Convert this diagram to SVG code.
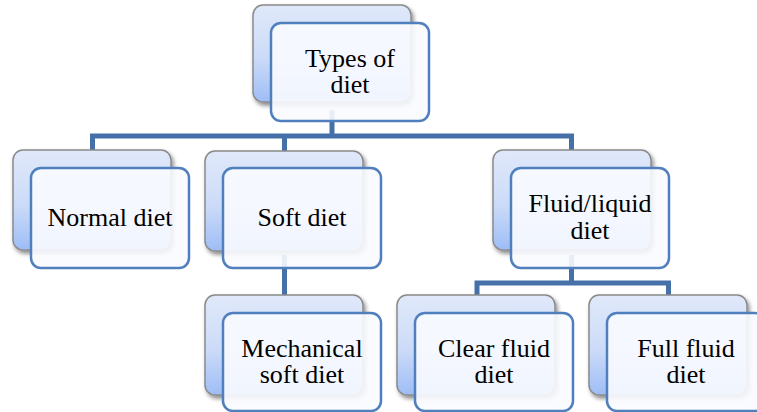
<svg xmlns="http://www.w3.org/2000/svg" width="757" height="412" viewBox="0 0 757 412">
  <defs>
    <linearGradient id="backFill" x1="0" y1="0" x2="0" y2="1">
      <stop offset="0" stop-color="#e0e9fa"/>
      <stop offset="0.55" stop-color="#cbdbf8"/>
      <stop offset="1" stop-color="#9ebdf6"/>
    </linearGradient>
    <filter id="shadow" x="-10%" y="-10%" width="125%" height="130%">
      <feDropShadow dx="2" dy="3" stdDeviation="2" flood-color="#000" flood-opacity="0.45"/>
    </filter>
  </defs>
  <style>
    .back { fill: url(#backFill); stroke: #8a8a8a; stroke-width: 1.5; filter: url(#shadow); }
    .front { fill: #f9fbff; fill-opacity: 0.9; stroke: #4f7fbd; stroke-width: 2.5; }
    .link { fill: none; stroke: #4670a8; stroke-width: 5; stroke-linejoin: miter; }
    text { font-family: "Liberation Serif", "Times New Roman", serif; font-size: 26px; fill: #000; text-anchor: middle; }
  </style>

  <g id="connectors">
    <path class="link" d="M332 110 V136"/>
    <path class="link" d="M92.5 160 V136 H571.5 V160"/>
    <path class="link" d="M284.5 136 V160"/>
    <path class="link" d="M284.5 255 V305"/>
    <path class="link" d="M571.5 255 V283"/>
    <path class="link" d="M477 305 V283 H668.5 V305"/>
  </g>

  <g id="types-of-diet">
    <rect class="back" x="253" y="5" width="158" height="97" rx="10"/>
    <rect class="front" x="271" y="23" width="158" height="98" rx="10"/>
    <text x="350" y="67">Types of</text>
    <text x="350" y="93">diet</text>
  </g>

  <g id="normal-diet">
    <rect class="back" x="13" y="150" width="158" height="100" rx="10"/>
    <rect class="front" x="31" y="168" width="158" height="100" rx="10"/>
    <text x="110" y="226">Normal diet</text>
  </g>

  <g id="soft-diet">
    <rect class="back" x="205" y="151" width="158" height="100" rx="10"/>
    <rect class="front" x="223" y="168" width="158" height="100" rx="10"/>
    <text x="302" y="226">Soft diet</text>
  </g>

  <g id="fluid-liquid-diet">
    <rect class="back" x="493" y="150" width="158" height="100" rx="10"/>
    <rect class="front" x="511" y="168" width="158" height="100" rx="10"/>
    <text x="590" y="212">Fluid/liquid</text>
    <text x="590" y="239">diet</text>
  </g>

  <g id="mechanical-soft-diet">
    <rect class="back" x="205" y="295" width="158" height="100" rx="10"/>
    <rect class="front" x="223" y="313" width="158" height="98" rx="10"/>
    <text x="302" y="357">Mechanical</text>
    <text x="302" y="383">soft diet</text>
  </g>

  <g id="clear-fluid-diet">
    <rect class="back" x="397" y="295" width="158" height="100" rx="10"/>
    <rect class="front" x="415" y="313" width="158" height="98" rx="10"/>
    <text x="494" y="357">Clear fluid</text>
    <text x="494" y="383">diet</text>
  </g>

  <g id="full-fluid-diet">
    <rect class="back" x="589" y="295" width="158" height="100" rx="10"/>
    <rect class="front" x="607" y="313" width="158" height="98" rx="10"/>
    <text x="686" y="357">Full fluid</text>
    <text x="686" y="383">diet</text>
  </g>
</svg>
